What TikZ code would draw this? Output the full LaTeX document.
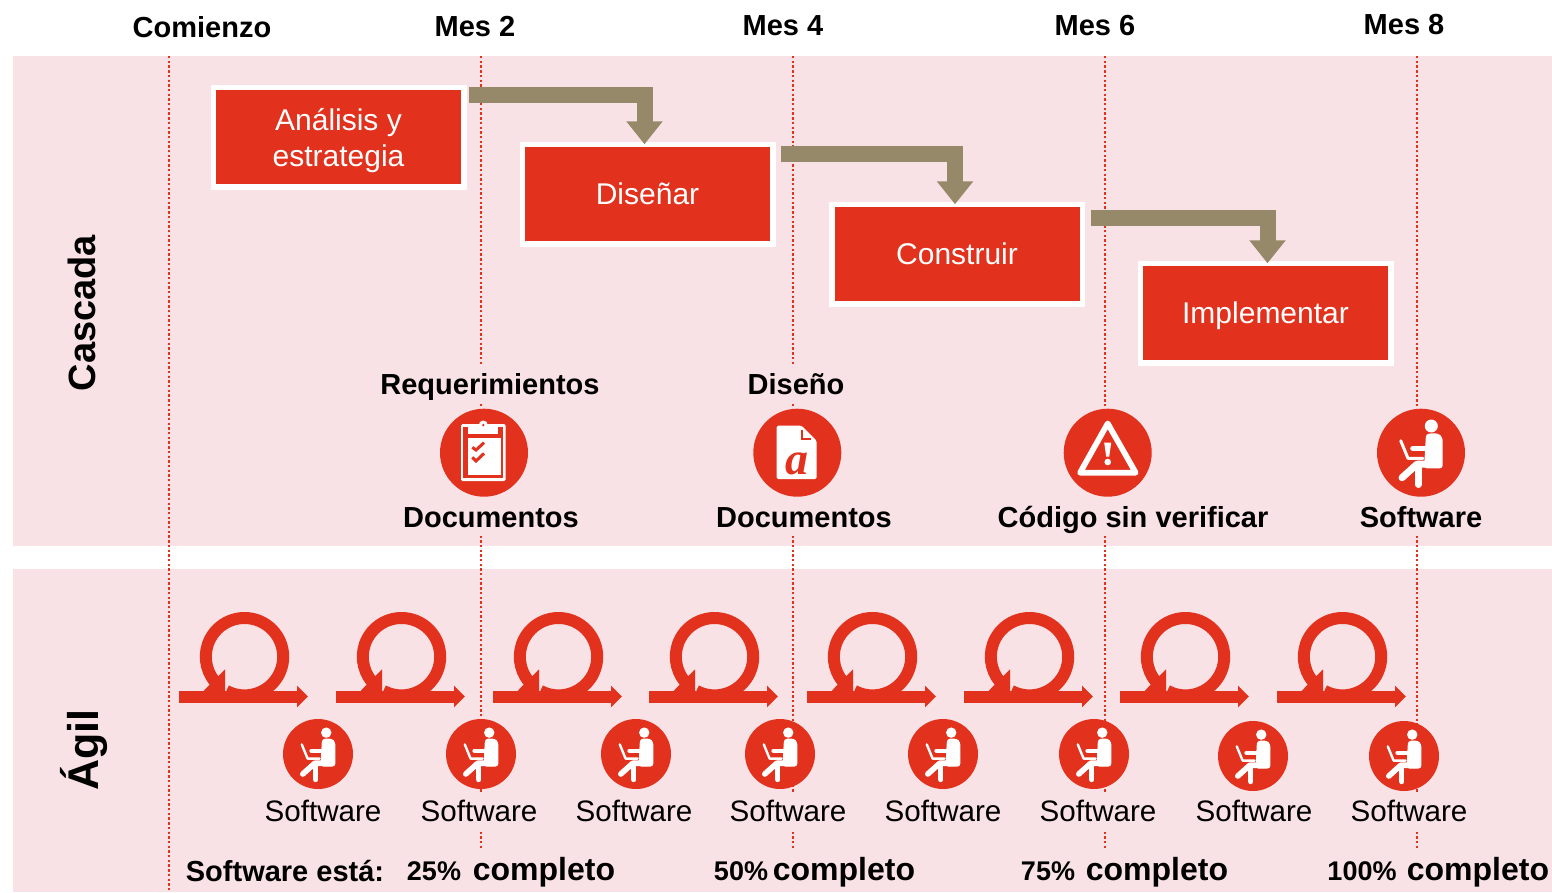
\documentclass[tikz,border=0pt]{standalone}
\usepackage{fontspec}
\setmainfont{Liberation Sans}
\usetikzlibrary{positioning, arrows.meta}
\definecolor{bandpink}{HTML}{F9E2E5}
\definecolor{stagered}{HTML}{E2311D}
\definecolor{elbowbrown}{HTML}{96896A}
\newcommand{\fsize}[1]{\fontsize{#1}{36}\selectfont}
\tikzset{
    pics/person/.style={code={
        \begin{scope}[scale=#1, white, line cap=round, line join=round]
            \fill (10.3,26.7) circle (6.5);
            \fill[rounded corners=3pt] (5,19) -- (17.3,19.5) -- (21.7,15) -- (21.7,-15.7) -- (3,-15.7) -- cycle;
            \draw[line width=#1*5pt] (-8.3,4.3) -- (7.3,4.3);
            \draw[line width=#1*3pt] (-20.3,12) -- (-13,-5.7) -- (2,-5.7);
            \draw[line width=#1*7pt] (15,-11.5) -- (-4,-11.5) -- (-19,-25);
            \draw[line width=#1*6.5pt] (-2.7,-13) -- (-2.7,-32);
        \end{scope}
    }},
    pics/cycle arrow/.style={code={
        \draw[stagered, line width=12pt, -{Triangle[length=11pt, width=21pt]}] (0,0) -- (129,0);
        \draw[stagered, line width=12pt] (65.5,39.8) ++(-118:38.7) arc[start angle=-118, end angle=220, radius=38.7];
        \fill[stagered] (46,27.2) -- (46,5) -- (24,5) -- cycle;
    }}
}

\begin{document}
\begin{tikzpicture}[x=1pt, y=1pt,
    guide/.style={stagered, dash pattern=on 2.4pt off 2.3pt, line width=2.2pt},
    stagebox/.style={draw=white, line width=5.5pt, fill=stagered, text=white, outer sep=0pt, minimum width=250.5pt, minimum height=99.5pt, align=center, text depth=0pt, font=\fontsize{30}{36}\selectfont},
    elbow/.style={elbowbrown, line width=16pt, -{Triangle[length=23pt, width=35pt]}},
    monthlabel/.style={font=\fsize{29}\bfseries},
    sidelabel/.style={font=\fsize{38}\bfseries, rotate=90},
    deliverable/.style={fill=bandpink, inner xsep=2pt, inner ysep=8.5pt, text height=21pt, text depth=0pt, font=\fsize{29}\bfseries},
    iconbig/.style={circle, fill=stagered, minimum size=88pt, inner sep=0pt, outer sep=0pt},
    iconsmall/.style={circle, fill=stagered, minimum size=70pt, inner sep=0pt, outer sep=0pt},
    softlabel/.style={fill=bandpink, inner xsep=2pt, inner ysep=8pt, text height=21pt, text depth=0pt, font=\fsize{29.6}},
    progress/.style={font=\fsize{27}\bfseries},
    progressbig/.style={font=\fsize{32}\bfseries}
]
    \useasboundingbox (0,0) rectangle (1552,-892);

    \fill[bandpink] (13,-56) rectangle (1552,-546);
    \fill[bandpink] (13,-569) rectangle (1552,-892);

    \node[monthlabel] (start) at (202,-27) {Comienzo};
    \node[monthlabel] (month2) at (475,-27) {Mes 2};
    \node[monthlabel] (month4) at (783,-26) {Mes 4};
    \node[monthlabel] (month6) at (1095,-26) {Mes 6};
    \node[monthlabel] (month8) at (1404,-25) {Mes 8};

    \coordinate (line0-top) at (169,-56);
    \coordinate (line0-end) at (169,-892);
    \coordinate (line2-top) at (481,-56);
    \coordinate (line2-end) at (481,-848);
    \coordinate (line4-top) at (793,-56);
    \coordinate (line4-end) at (793,-848);
    \coordinate (line6-top) at (1105,-56);
    \coordinate (line6-end) at (1105,-848);
    \coordinate (line8-top) at (1417,-56);
    \coordinate (line8-end) at (1417,-848);
    \draw[guide] (line0-top) -- (line0-end);
    \draw[guide] (line2-top) -- (line2-end);
    \draw[guide] (line4-top) -- (line4-end);
    \draw[guide] (line6-top) -- (line6-end);
    \draw[guide] (line8-top) -- (line8-end);

    \node[sidelabel] (cascada) at (82,-313) {Cascada};
    \node[sidelabel, font=\fsize{43}\bfseries] (agil) at (84,-750) {Ágil};

    \node[stagebox] (analisis) at (338.5,-137) {Análisis y\\estrategia};
    \node[stagebox, right=58.5pt of analisis, yshift=-57pt] (disenar) {Diseñar};
    \node[stagebox, right=59pt of disenar, yshift=-60pt] (construir) {Construir};
    \node[stagebox, right=58pt of construir, yshift=-59pt] (implementar) {Implementar};

    \draw[elbow] ([xshift=5pt, yshift=42.5pt]analisis.east) -| ([xshift=-3pt]disenar.north);
    \draw[elbow] ([xshift=8pt, yshift=40pt]disenar.east) -| ([xshift=-2pt]construir.north);
    \draw[elbow] ([xshift=9pt, yshift=36pt]construir.east) -| ([xshift=2pt]implementar.north);

    \node[iconbig] (checklist) at (484,-452.7) {};
    \node[iconbig] (document) at (797.3,-452.7) {};
    \node[iconbig] (warning) at (1107.7,-452.7) {};
    \node[iconbig] (worker) at (1421,-452.7) {};

    \node[deliverable] (req-label) at (490,-384) {Requerimientos};
    \node[deliverable] (design-label) at (796,-384) {Diseño};
    \node[deliverable] (doc1-label) at (491,-517) {Documentos};
    \node[deliverable] (doc2-label) at (804,-517) {Documentos};
    \node[deliverable] (code-label) at (1133,-517) {Código sin verificar};
    \node[deliverable] (soft-label) at (1421,-517) {Software};

    \begin{scope}[shift={(checklist.center)}]
        \fill[white, rounded corners=1.5pt] (-23,-28.3) rectangle (21.7,28.7);
        \fill[stagered] (-20.7,-25.7) rectangle (19.3,26);
        \fill[white] (-16.3,-22.7) rectangle (17,15);
        \fill[white] (-15.7,18.7) rectangle (14.3,25.3);
        \fill[white] (-0.7,27.7) circle (4.5);
        \fill[stagered] (-0.7,27.7) circle (1.3);
        \draw[stagered, line width=3pt] (-11.7,5.3) -- (-8,2.7) -- (0,10);
        \draw[stagered, line width=3pt] (-11.7,-4.7) -- (-8,-8.3) -- (0,-0.7);
    \end{scope}

    \begin{scope}[shift={(document.center)}]
        \fill[white, rounded corners=1.5pt] (-20.7,-26.3) -- (-20.7,27) -- (4.3,27) -- (19.3,12) -- (19.3,-26.3) -- cycle;
        \draw[stagered, line width=2pt] (4.3,22.7) -- (4.3,13.3) -- (13.3,13.3);
        \node[text=stagered, font=\fontspec{Liberation Serif}\fontsize{46}{50}\selectfont\bfseries\itshape] (letter) at (-0.7,-10.7) {a};
    \end{scope}

    \begin{scope}[shift={(warning.center)}]
        \draw[white, line width=5.7pt, line join=round] (0,29.3) -- (28,-20) -- (-27.7,-20) -- cycle;
        \fill[white] (-3.5,10) -- (3.5,10) -- (1.5,-4) -- (-1.5,-4) -- cycle;
        \fill[white] (0,-9.3) circle (3.3);
    \end{scope}

    \pic at (worker.center) {person=1};

    \pic at (179,-696.5) {cycle arrow};
    \pic at (336,-696.5) {cycle arrow};
    \pic at (493,-696.5) {cycle arrow};
    \pic at (649,-696.5) {cycle arrow};
    \pic at (807,-696.5) {cycle arrow};
    \pic at (964,-696.5) {cycle arrow};
    \pic at (1120,-696.5) {cycle arrow};
    \pic at (1277,-696.5) {cycle arrow};

    \node[iconsmall] (sprint1) at (318,-754) {};
    \node[iconsmall] (sprint2) at (481,-754) {};
    \node[iconsmall] (sprint3) at (636,-754) {};
    \node[iconsmall] (sprint4) at (780,-754) {};
    \node[iconsmall] (sprint5) at (943,-754) {};
    \node[iconsmall] (sprint6) at (1094,-754) {};
    \node[iconsmall] (sprint7) at (1253,-756) {};
    \node[iconsmall] (sprint8) at (1404,-756) {};

    \pic at (sprint1.center) {person=.8};
    \pic at (sprint2.center) {person=.8};
    \pic at (sprint3.center) {person=.8};
    \pic at (sprint4.center) {person=.8};
    \pic at (sprint5.center) {person=.8};
    \pic at (sprint6.center) {person=.8};
    \pic at (sprint7.center) {person=.8};
    \pic at (sprint8.center) {person=.8};

    \node[softlabel, below=3.5pt of sprint1, xshift=5pt] (sprint1-label) {Software};
    \node[softlabel, below=3.5pt of sprint2, xshift=-2pt] (sprint2-label) {Software};
    \node[softlabel, below=3.5pt of sprint3, xshift=-2pt] (sprint3-label) {Software};
    \node[softlabel, below=3.5pt of sprint4, xshift=8pt] (sprint4-label) {Software};
    \node[softlabel, below=3.5pt of sprint5] (sprint5-label) {Software};
    \node[softlabel, below=3.5pt of sprint6, xshift=4pt] (sprint6-label) {Software};
    \node[softlabel, below=1.5pt of sprint7, xshift=1pt] (sprint7-label) {Software};
    \node[softlabel, below=1.5pt of sprint8, xshift=5pt] (sprint8-label) {Software};

    \node[progress, font=\fsize{29}\bfseries] (state) at (285,-871) {Software está:};
    \node[progress] (pct25) at (434,-871) {25\%};
    \node[progressbig] (done25) at (544,-872) {completo};
    \node[progress] (pct50) at (741,-871) {50\%};
    \node[progressbig] (done50) at (844,-872) {completo};
    \node[progress] (pct75) at (1048,-871) {75\%};
    \node[progressbig] (done75) at (1157,-872) {completo};
    \node[progress] (pct100) at (1362,-871) {100\%};
    \node[progressbig] (done100) at (1478,-872) {completo};
\end{tikzpicture}
\end{document}
